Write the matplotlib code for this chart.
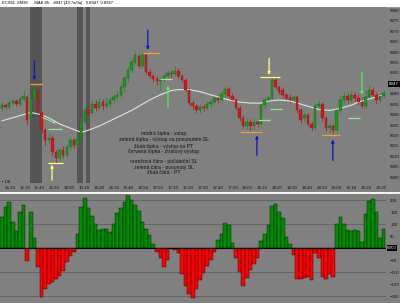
import numpy as np
import matplotlib
matplotlib.use("Agg")
import matplotlib.pyplot as plt
import matplotlib.transforms as mtrans
from matplotlib.lines import Line2D
from matplotlib.patches import Rectangle

plt.rcParams["font.family"] = ["Liberation Sans", "DejaVu Sans"]

# --- barvy ---
BG = "#808080"
BAND = "#555555"
GREEN = "#10a010"
RED = "#e01010"
TXT = "#151515"
BLUE = "#1414c8"
ORANGE = "#ff9a30"
YELLOW = "#ffff70"
LGREEN = "#98e898"

# --- data: svicky (cena v bodech) ---
opens = [8933, 8934.5, 8933.5, 8935.5, 8936.5, 8935, 8937.5, 8938.5, 8928.5, 8938,
         8942, 8931, 8922.5, 8918, 8919, 8912, 8909, 8913, 8910.5, 8914.5,
         8918, 8915.5, 8918.5, 8926.5, 8932, 8931, 8935, 8933, 8936, 8934,
         8935, 8937, 8938.5, 8939.5, 8943, 8947.5, 8951.5, 8955, 8958, 8953.5,
         8958.5, 8950.5, 8948.5, 8947, 8946, 8946.5, 8948.5, 8950, 8949.5, 8951,
         8948.5, 8946.5, 8942, 8935.5, 8934, 8932, 8933.5, 8933, 8935, 8936,
         8938, 8937, 8940, 8942.5, 8939, 8937, 8933, 8928.5, 8924.5, 8926.5,
         8924.5, 8926.5, 8925.5, 8934.5, 8937, 8938, 8946.5, 8943, 8942, 8939.5,
         8938, 8937, 8938.5, 8932, 8928.5, 8930, 8925.5, 8923.5, 8934, 8935,
         8928.5, 8923.5, 8924.5, 8922.5, 8932, 8937, 8939, 8937, 8939.5, 8938,
         8936, 8934, 8938.5, 8942, 8939.5, 8937, 8939]
closes = [8934.5, 8933.5, 8935.5, 8936.5, 8935, 8937.5, 8939, 8927.5, 8938, 8942.5,
          8931, 8922.5, 8918, 8919, 8912, 8909, 8913, 8910.5, 8914.5, 8918,
          8915.5, 8918.5, 8926.5, 8932, 8931, 8935, 8933, 8936, 8934, 8935,
          8937, 8938.5, 8939.5, 8943, 8947.5, 8951.5, 8955, 8958.5, 8953.5, 8958.5,
          8950.5, 8948.5, 8947, 8946, 8946.5, 8948.5, 8950, 8949.5, 8951, 8948.5,
          8946.5, 8942, 8935.5, 8934, 8932, 8933.5, 8933, 8935, 8936, 8938,
          8937, 8940, 8942.5, 8939, 8937, 8933, 8928.5, 8924.5, 8926.5, 8924.5,
          8926.5, 8925.5, 8934.5, 8937, 8938, 8946.5, 8943, 8941, 8939.5, 8938,
          8937, 8938.5, 8932, 8927.5, 8930, 8925.5, 8923.5, 8934, 8935, 8928.5,
          8923.5, 8924.5, 8922.5, 8932, 8937, 8939, 8937, 8939.5, 8938, 8936,
          8934, 8938.5, 8942, 8939.5, 8937, 8939, 8940.5]
highs = [8936, 8935.5, 8937, 8938, 8937.5, 8939, 8942, 8939.5, 8939, 8943.5,
         8943, 8931.5, 8923.5, 8921, 8920, 8913, 8914, 8915, 8915.5, 8919.5,
         8919, 8920, 8928.5, 8934, 8934.5, 8937, 8937, 8938, 8937.5, 8938.5,
         8938.5, 8940, 8942, 8944.5, 8949, 8953.5, 8957, 8960.5, 8959, 8960,
         8959.5, 8952, 8949.5, 8948.5, 8948, 8949.5, 8951.5, 8951.5, 8953.5, 8952.5,
         8949.5, 8947.5, 8943, 8937, 8935, 8935, 8935, 8936.5, 8937.5, 8939.5,
         8939.5, 8942, 8943.5, 8943, 8940.5, 8938, 8934, 8930, 8928.5, 8928,
         8928.5, 8928, 8935.5, 8938.5, 8939.5, 8948, 8947.5, 8944, 8943, 8940.5,
         8940, 8939.5, 8939.5, 8933, 8931, 8931, 8927, 8935, 8937, 8936,
         8929.5, 8926, 8925.5, 8933, 8939, 8941, 8940.5, 8941.5, 8941, 8940,
         8938, 8942, 8944, 8943, 8941, 8940.5, 8942]
lows = [8931.5, 8932.5, 8932.5, 8934.5, 8934, 8934, 8936.5, 8925, 8927.5, 8937,
        8929.5, 8921, 8915.5, 8916.5, 8910, 8907, 8908, 8909, 8909.5, 8913,
        8914, 8914.5, 8918, 8925.5, 8930, 8930.5, 8931.5, 8932, 8932, 8933,
        8933.5, 8935.5, 8937, 8938, 8941, 8945.5, 8950, 8954.5, 8952.5, 8952.5,
        8949.5, 8947.5, 8945.5, 8944, 8942, 8945.5, 8947.5, 8947.5, 8948.5, 8947.5,
        8945.5, 8941, 8934.5, 8932.5, 8931, 8931, 8931.5, 8932, 8933.5, 8935,
        8935.5, 8936, 8938.5, 8938, 8936, 8932, 8927, 8923.5, 8923, 8922,
        8923, 8924, 8924, 8933, 8935.5, 8937, 8942.5, 8940, 8938.5, 8937,
        8935.5, 8936, 8931, 8926, 8926.5, 8924.5, 8922.5, 8922.5, 8932, 8927,
        8922, 8921.5, 8920.5, 8921.5, 8931, 8935.5, 8935.5, 8936, 8936.5, 8935,
        8933, 8933, 8937.5, 8938.5, 8935, 8936, 8938]

# klouzavy prumer
ma_idx = [0, 4, 8, 11, 14, 16, 19, 22, 24, 27, 30, 33, 36, 38, 41, 44, 47, 49, 52,
          55, 58, 61, 63, 66, 69, 72, 74, 77, 80, 83, 86, 88, 91, 94, 97, 99, 102, 106]
ma_vals = [8927, 8929, 8931, 8930, 8927.5, 8925.5, 8923.5, 8921.5, 8922.5, 8924.5,
           8927, 8929.5, 8932, 8934, 8937, 8939.5, 8941.5, 8942, 8942, 8941,
           8939.5, 8938, 8937, 8936, 8935.5, 8935.5, 8936.5, 8937, 8936.5, 8935,
           8933.5, 8932.5, 8932, 8933, 8934.5, 8936, 8937.5, 8939.5]

# oscilator (CCI)
cci = [130, 170, 190, 110, 70, 150, 180, -55, 150, 40,
       -80, -205, -170, -150, -140, -130, -118, -95, -60, -35,
       -15, 60, 170, 208, 165, 135, 100, 75, 78, 80,
       67, 100, 146, 165, 190, 220, 200, 180, 155, 110,
       80, 55, 15, -15, -40, -80, -50, -5, -10, -20,
       -110, -160, -190, -208, -170, -133, -105, -75, -50, -15,
       35, 60, 105, 95, 20, -40, -100, -160, -125, -90,
       -65, -40, 30, 60, 95, 175, 185, 150, 125, 45,
       15, -30, -130, -128, -125, -120, -133, -20, -40, -120,
       -130, -108, -121, 100, 129, 100, 75, 73, 75, 72,
       25, 140, 195, 204, 150, 40, 80]

times = ["15:20", "15:30", "15:40", "15:50", "16:00", "16:10", "16:20", "16:30",
         "16:40", "16:50", "17:00", "17:10", "17:20", "17:30", "17:40", "17:50",
         "18:00", "18:10", "18:20", "18:30", "18:40", "18:50", "19:00", "19:10",
         "19:20", "19:30"]

# tmave pruhy (index od-do)
bands = [(7.8, 11.1), (20.8, 22.5), (23.3, 24.4)]

# signaly: (index, od, do) - sipky
blue_arrows = [(9, 8956, 8946.5), (40.5, 8970.5, 8961), (70.8, 8910.5, 8920), (91.9, 8908, 8918)]
yellow_arrows = [(13.9, 8898.5, 8906), (74.2, 8957, 8949)]
green_arrows = [(46.1, 8933.5, 8944), (100, 8950.5, 8939.5)]
# cary: (cena, od, do)
orange_lines = [(8944.5, 7.8, 11.1), (8959.5, 39.2, 43.9), (8921.5, 66.1, 72.2), (8920, 88.9, 93.9)]
yellow_lines = [(8907, 12.8, 16.9), (8948, 71.7, 77.2)]
green_lines = [(8923, 12.8, 16.7), (8947, 43.9, 47.2), (8927.5, 71, 74.4),
               (8932.5, 74.4, 77.8), (8928.5, 96, 99.4)]

legend_lines = ["modrá šipka - vstup",
                "zelená šipka - výstup na posunutém SL",
                "žlutá šipka - výstup na PT",
                "červená šipka - ztrátový výstup",
                "oranžová čára - počáteční SL",
                "zelená čára - posunutý SL",
                "žlutá čára - PT"]
legend_y = [133, 140, 146, 152, 162, 167, 173]

W, H = 400, 303


def rect(x0, y0, x1, y1):
    return [x0 / W, 1 - y1 / H, (x1 - x0) / W, (y1 - y0) / H]


fig = plt.figure(figsize=(4.0, 3.03), dpi=100, facecolor=BG)

# horni lista
fig.add_artist(Rectangle((0, 1 - 6 / H), 1, 6 / H, transform=fig.transFigure,
                         color="white", zorder=0))
fig.text(2 / W, 1 - 3 / H, "EC0S1 .6M98      MAE 85:  .8947 (49.7a/3a)   0.8947  0.8947",
         fontsize=3.0, va="center", ha="left", color="black")

# --- cenovy graf ---
ax = fig.add_axes(rect(0, 7, 386, 183))
ax.set_facecolor(BG)
idx = np.arange(len(opens))
o = np.array(opens); c = np.array(closes)
cols = np.where(c >= o, GREEN, RED)
for a, b in bands:
    ax.axvspan(a, b, color=BAND, lw=0, zorder=0)
ax.vlines(idx, lows, highs, colors=cols, lw=0.6, zorder=2)
ax.bar(idx, c - o, bottom=o, width=0.72, color=cols, edgecolor="#303030", lw=0.2, zorder=3)
ax.plot(ma_idx, ma_vals, color="#d8e6d8", lw=0.8, zorder=2.5)

for p, a, b in orange_lines:
    ax.hlines(p, a, b, color=ORANGE, lw=0.9, zorder=4)
for p, a, b in yellow_lines:
    ax.hlines(p, a, b, color=YELLOW, lw=0.9, zorder=4)
for p, a, b in green_lines:
    ax.hlines(p, a, b, color=LGREEN, lw=0.9, zorder=4)
ax.plot([11.4, 14.7], [8928.5, 8926], color=LGREEN, lw=0.8, zorder=4)

for arr, col in ((blue_arrows, BLUE), (yellow_arrows, YELLOW), (green_arrows, "#50f050")):
    for i, p0, p1 in arr:
        ax.annotate("", xy=(i, p1), xytext=(i, p0),
                    arrowprops=dict(arrowstyle="-|>", color=col, lw=0.9,
                                    mutation_scale=4, shrinkA=0, shrinkB=0), zorder=5)

ax.set_xlim(-0.556, 106.67)
ax.set_ylim(8897.2, 8981.6)
ax.yaxis.tick_right()
ax.set_yticks(range(8900, 8981, 5))
ax.set_yticklabels([str(v) for v in range(8900, 8981, 5)])
ax.tick_params(axis="y", length=0, labelsize=3.2, pad=3, colors=TXT)
ax.set_xticks(np.linspace(2.2, 105.3, len(times)))
ax.set_xticklabels(times)
ax.tick_params(axis="x", length=0, labelsize=3.2, pad=2.5, colors=TXT)
for s in ax.spines.values():
    s.set_visible(False)

bt = mtrans.blended_transform_factory(ax.transAxes, ax.transData)
ax.text(1.008, 8944.5, "8947", transform=bt, fontsize=3.2, color="white", va="center",
        ha="left", zorder=10, clip_on=False,
        bbox=dict(boxstyle="square,pad=0.25", fc="black", ec="none"))

for t, y in zip(legend_lines, legend_y):
    fig.text(164 / W, 1 - y / H, t, fontsize=3.7, ha="center", va="center", color=TXT)
fig.text(2 / W, 1 - 182 / H, "\u25aa 1/6", fontsize=3.0, ha="left", va="center", color="black")

# delici cara
fig.add_artist(Line2D([0, 1], [1 - 193 / H] * 2, color="white", lw=1.3,
                      transform=fig.transFigure))

# --- oscilator ---
ax2 = fig.add_axes(rect(0, 195, 386, 303))
ax2.set_facecolor(BG)
hv = np.array(cci)
hcols = np.where(hv >= 0, "#008c00", "#ff0000")
for g in (-200, -100, 100, 200):
    ax2.axhline(g, color="#5c5c5c", lw=0.5, zorder=0)
ax2.bar(idx, hv, width=1.0, color=hcols, edgecolor="#101010", lw=0.3, zorder=2)
ax2.axhline(0, color="black", lw=0.8, zorder=3)
ax2.set_xlim(-0.556, 106.67)
ax2.set_ylim(-229, 221)
ax2.yaxis.tick_right()
ax2.set_yticks([200, 150, 100, 50, -50, -100, -150, -200])
ax2.tick_params(axis="y", length=0, labelsize=3.2, pad=3, colors=TXT)
ax2.set_xticks([])
for s in ax2.spines.values():
    s.set_visible(False)
bt2 = mtrans.blended_transform_factory(ax2.transAxes, ax2.transData)
ax2.text(1.003, 0, "0.000", transform=bt2, fontsize=2.9, color="white", va="center",
         ha="left", zorder=10, clip_on=False,
         bbox=dict(boxstyle="square,pad=0.15", fc="black", ec="none"))

fig.savefig("out.png", dpi=100, facecolor=BG)
